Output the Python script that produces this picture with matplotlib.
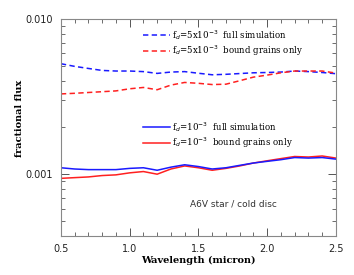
import numpy as np
import matplotlib.pyplot as plt
from matplotlib.lines import Line2D
from matplotlib.ticker import FixedLocator, FixedFormatter, MultipleLocator, NullFormatter, LogLocator

# wavelength grid (micron)
wavelength = [0.5, 0.6, 0.7, 0.8, 0.9, 1.0, 1.1, 1.2, 1.3, 1.4, 1.5,
              1.6, 1.7, 1.8, 1.9, 2.0, 2.1, 2.2, 2.3, 2.4, 2.5]

# fd = 5e-3
full_5e3 = [0.00515, 0.00495, 0.00480, 0.00466, 0.00462, 0.00462, 0.00458,
            0.00446, 0.00455, 0.00458, 0.00447, 0.00437, 0.00440, 0.00445,
            0.00450, 0.00452, 0.00455, 0.00462, 0.00458, 0.00452, 0.00444]
bound_5e3 = [0.00329, 0.00332, 0.00336, 0.00340, 0.00344, 0.00355, 0.00362,
             0.00350, 0.00375, 0.00390, 0.00385, 0.00378, 0.00380, 0.00400,
             0.00422, 0.00435, 0.00450, 0.00462, 0.00462, 0.00462, 0.00448]

# fd = 1e-3
full_1e3 = [0.00110, 0.00108, 0.00107, 0.00107, 0.00107, 0.00109, 0.00110,
            0.00106, 0.00111, 0.00115, 0.00112, 0.00108, 0.00110, 0.00114,
            0.00118, 0.00121, 0.00124, 0.00128, 0.00127, 0.00128, 0.00125]
bound_1e3 = [0.00094, 0.00095, 0.00096, 0.00098, 0.00099, 0.00102, 0.00104,
             0.00100, 0.00108, 0.00113, 0.00110, 0.00106, 0.00109, 0.00113,
             0.00118, 0.00122, 0.00126, 0.00130, 0.00129, 0.00131, 0.00127]

serif = 'DejaVu Serif'
dash = (3.5, 2.2)

fig = plt.figure(figsize=(3.54, 2.75), dpi=100)
ax = fig.add_axes([0.172, 0.142, 0.777, 0.789])

ax.plot(wavelength, full_5e3, color='#1a1aff', lw=1.1, dashes=dash)
ax.plot(wavelength, bound_5e3, color='#ff2020', lw=1.1, dashes=dash)
ax.plot(wavelength, bound_1e3, color='#ff2020', lw=1.1)
ax.plot(wavelength, full_1e3, color='#1a1aff', lw=1.1)

ax.set_yscale('log')
ax.set_xlim(0.5, 2.5)
ax.set_ylim(0.0004, 0.01)

ax.xaxis.set_major_locator(MultipleLocator(0.5))
ax.xaxis.set_minor_locator(MultipleLocator(0.1))
ax.yaxis.set_major_locator(FixedLocator([0.001, 0.01]))
ax.yaxis.set_major_formatter(FixedFormatter(['0.001', '0.010']))
ax.yaxis.set_minor_locator(LogLocator(base=10, subs=np.arange(2, 10)))
ax.yaxis.set_minor_formatter(NullFormatter())

ax.tick_params(which='both', direction='in', top=True, right=True,
               colors='#555555', labelcolor='#222222', labelsize=7)
ax.tick_params(which='major', length=6, width=0.7, pad=6)
ax.tick_params(which='minor', length=3, width=0.6)
for s in ax.spines.values():
    s.set_color('#888888')
    s.set_linewidth(0.8)

ax.set_xlabel('Wavelength (micron)', family=serif, fontweight='bold', fontsize=7, labelpad=1)
ax.set_ylabel('fractional flux', family=serif, fontweight='bold', fontsize=7)
ax.yaxis.set_label_coords(-0.135, 0.54)

h1 = [Line2D([], [], color='#1a1aff', lw=1.1, dashes=dash),
      Line2D([], [], color='#ff2020', lw=1.1, dashes=dash)]
l1 = [r'f$_d$=5x10$^{-3}$  full simulation', r'f$_d$=5x10$^{-3}$  bound grains only']
h2 = [Line2D([], [], color='#1a1aff', lw=1.1),
      Line2D([], [], color='#ff2020', lw=1.1)]
l2 = [r'f$_d$=10$^{-3}$  full simulation', r'f$_d$=10$^{-3}$  bound grains only']

leg_kw = dict(frameon=False, handlelength=3.2, handletextpad=0.2, labelspacing=0.2,
              prop={'family': serif, 'size': 6.2}, borderaxespad=0)
leg1 = ax.legend(h1, l1, loc='upper left', bbox_to_anchor=(0.285, 0.975), **leg_kw)
ax.add_artist(leg1)
ax.legend(h2, l2, loc='upper left', bbox_to_anchor=(0.285, 0.55), **leg_kw)

ax.text(0.47, 0.135, 'A6V star / cold disc', transform=ax.transAxes, fontsize=6.5,
        color='#333333')

fig.savefig('out.png', dpi=100)
